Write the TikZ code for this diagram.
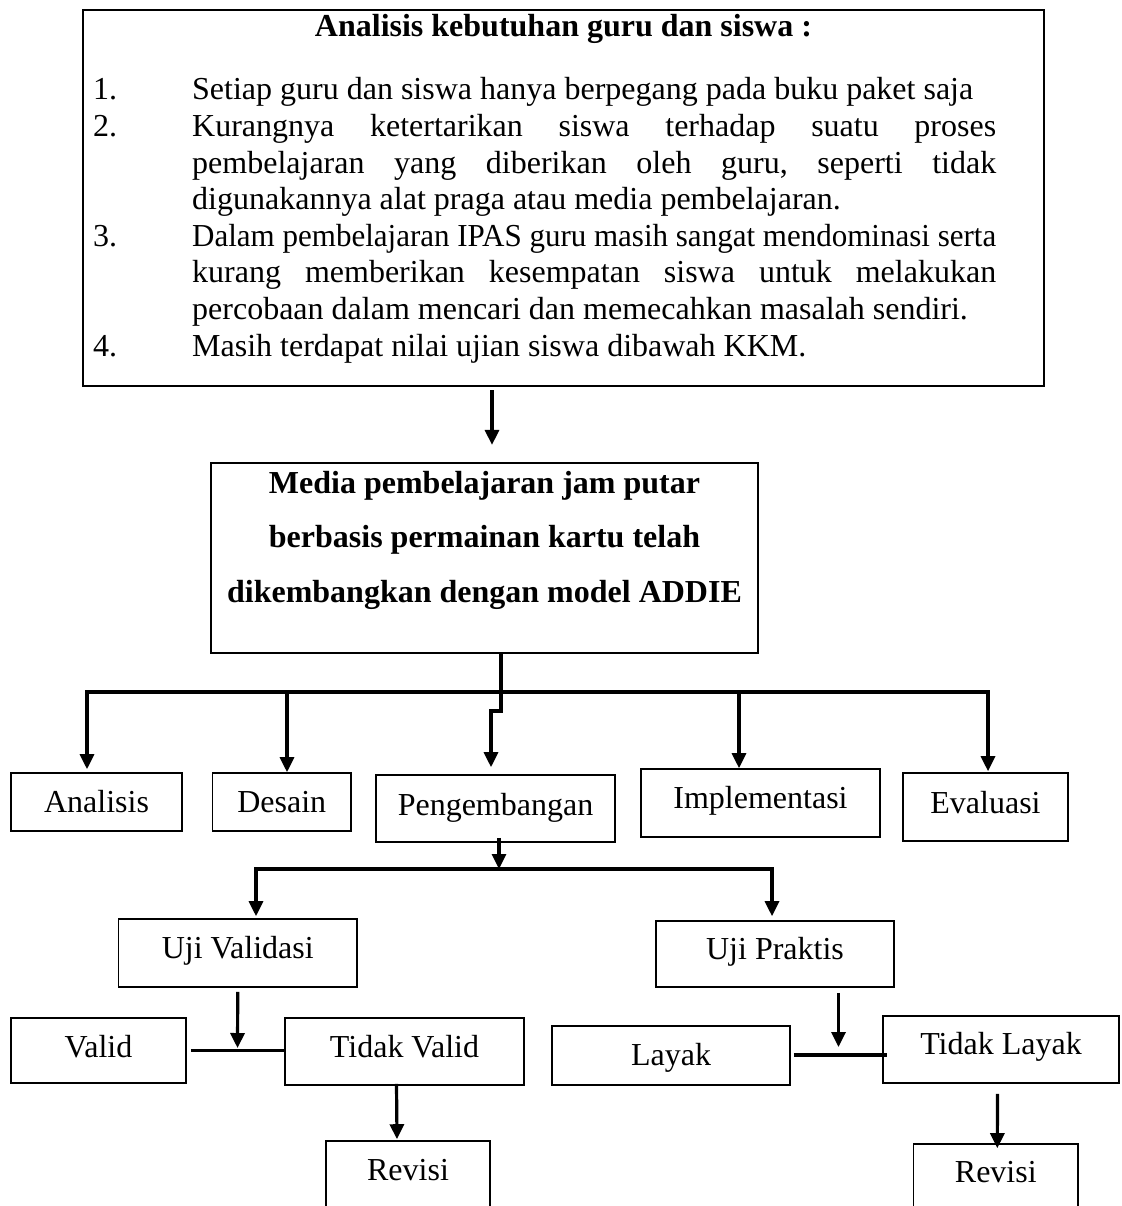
\documentclass[tikz,border=0pt]{standalone}
\usepackage{fontspec}
\usepackage{graphicx}
\setmainfont{Liberation Serif}
\usetikzlibrary{arrows.meta,calc}
\frenchspacing
\begin{document}
\begin{tikzpicture}[x=1pt,y=-1pt,
  every node/.style={font=\fontsize{32pt}{38pt}\selectfont},
  box/.style={draw, line width=1.6pt, inner sep=0pt},
  bigbox/.style={draw, line width=2.4pt, inner sep=0pt},
  line/.style={line width=3.4pt},
  arr/.style={line width=3.2pt, -{Triangle[width=14pt,length=15pt]}},
]
\useasboundingbox (0,0) rectangle (1121,1206);
\clip (0,0) rectangle (1121,1206);
\fill[white] (0,0) rectangle (1121,1206);

% top box
\node[bigbox, minimum width=961pt, minimum height=376pt] (needs) at (563.5,198) {};
\node[anchor=base, inner sep=0pt] (title) at (563.5,37) {\bfseries Analisis kebutuhan guru dan siswa :};
\node[anchor=base west, inner sep=0pt] (items) at (93,100) {\parbox[t]{904pt}{\fontsize{32pt}{36.6pt}\selectfont
\makebox[99pt][l]{1.}Setiap guru dan siswa hanya berpegang pada buku paket saja\\
\makebox[99pt][l]{2.}\makebox[804pt][s]{Kurangnya ketertarikan siswa terhadap suatu proses}\\
\hspace*{99pt}\makebox[804pt][s]{pembelajaran yang diberikan oleh guru, seperti tidak}\\
\hspace*{99pt}digunakannya alat praga atau media pembelajaran.\\
\makebox[99pt][l]{3.}\resizebox{804pt}{\height}{Dalam pembelajaran IPAS guru masih sangat mendominasi serta}\\
\hspace*{99pt}\makebox[804pt][s]{kurang memberikan kesempatan siswa untuk melakukan}\\
\hspace*{99pt}percobaan dalam mencari dan memecahkan masalah sendiri.\\
\makebox[99pt][l]{4.}Masih terdapat nilai ujian siswa dibawah KKM.}};

% media box
\node[bigbox, line width=2.2pt, minimum width=547pt, minimum height=190pt] (media) at (484.5,558) {};
\node[anchor=base, inner sep=0pt] (mediatext) at (484.5,493) {\parbox[t]{540pt}{\centering\bfseries\fontsize{32pt}{54.5pt}\selectfont
Media pembelajaran jam putar\\
berbasis permainan kartu telah\\
dikembangkan dengan model ADDIE}};

% ADDIE boxes
\node[box, minimum width=171pt, minimum height=58pt, text height=20pt, text depth=0pt] (analisis) at (96.5,802) {Analisis};
\node[box, minimum width=138.5pt, minimum height=58pt, text height=20pt, text depth=0pt] (desain) at (281.75,802) {Desain};
\node[box, minimum width=239pt, minimum height=67pt, text height=13pt, text depth=0pt] (peng) at (495.5,808.5) {Pengembangan};
\node[box, minimum width=239pt, minimum height=68pt, text height=10pt, text depth=0pt] (impl) at (760.5,803) {Implementasi};
\node[box, minimum width=165pt, minimum height=68pt, text height=12pt, text depth=0pt] (eval) at (985.5,807) {Evaluasi};

% tests
\node[box, minimum width=238.5pt, minimum height=68pt, text height=10pt, text depth=0pt] (ujiv) at (237.75,953) {Uji Validasi};
\node[box, minimum width=238pt, minimum height=66pt, text height=10pt, text depth=0pt] (ujip) at (775,954) {Uji Praktis};

\node[box, minimum width=175pt, minimum height=65pt, text height=13pt, text depth=0pt] (valid) at (98.5,1050.5) {Valid};
\node[box, minimum width=239pt, minimum height=67pt, text height=11pt, text depth=0pt] (tvalid) at (404.5,1051.5) {Tidak Valid};
\node[box, minimum width=238pt, minimum height=59pt, text height=19pt, text depth=0pt] (layak) at (671,1055.5) {Layak};
\node[box, minimum width=236pt, minimum height=67pt, text height=9pt, text depth=0pt] (tlayak) at (1001,1049.5) {Tidak Layak};

\node[box, minimum width=164pt, minimum height=100pt, text height=0pt, text depth=22pt] (revisi1) at (408,1191) {Revisi};
\node[box, minimum width=164.4pt, minimum height=100pt, text height=0pt, text depth=24pt] (revisi2) at (995.8,1194) {Revisi};

% coordinates
\coordinate (busM) at (501,692);
\coordinate (busL) at (87,692);
\coordinate (busD) at (287,692);
\coordinate (busI) at (739,692);
\coordinate (busR) at (988,692);
\coordinate (jogA) at (501,711);
\coordinate (jogB) at (491,711);
\coordinate (b2M) at (499,869);
\coordinate (b2L) at (256,869);
\coordinate (b2R) at (772,869);
\coordinate (jv) at (237.5,1051);
\coordinate (jp) at (838.5,1055);

% connectors
\draw[arr] ([xshift=-71.5pt,yshift=-3pt]needs.south) -- ([xshift=7.5pt,yshift=17pt]media.north);

\draw[arr, shorten >=7pt] ([xshift=16.5pt]media.south) -- (jogA) -- (jogB) -- (jogB |- peng.north);
\draw[arr, shorten >=3pt] (busM) -| (busL |- analisis.north);
\draw[arr, shorten >=1pt] (busM) -| (busR |- eval.north);
\draw[arr] (busD) -- (busD |- desain.north);
\draw[arr] (busI) -- (busI |- impl.north);

\draw[arr] ([xshift=3.5pt,yshift=5pt]peng.south) -- (b2M);
\draw[arr, shorten >=2pt] (b2M) -| (b2L |- ujiv.north);
\draw[arr, shorten >=4pt] (b2M) -| (b2R |- ujip.north);

\draw[arr, shorten <=4pt, shorten >=3pt] (ujiv.south) -- (jv);
\draw[line] ($(valid.east)+(4,0)$) -- (tvalid.west |- valid.east);
\draw[arr] ([xshift=-8pt,yshift=2pt]tvalid.south) -- ([xshift=-11pt,yshift=1pt]revisi1.north);

\draw[arr, shorten >=8pt] ([xshift=63.5pt,yshift=-5pt]ujip.south) -- (jp);
\draw[line] ($(layak.east |- jp)+(3,0)$) -- ($(tlayak.west |- jp)+(5,0)$);
\draw[arr] ([xshift=-3.5pt,yshift=-10pt]tlayak.south) -- ([xshift=1.5pt,yshift=-5pt]revisi2.north);
\end{tikzpicture}
\end{document}
